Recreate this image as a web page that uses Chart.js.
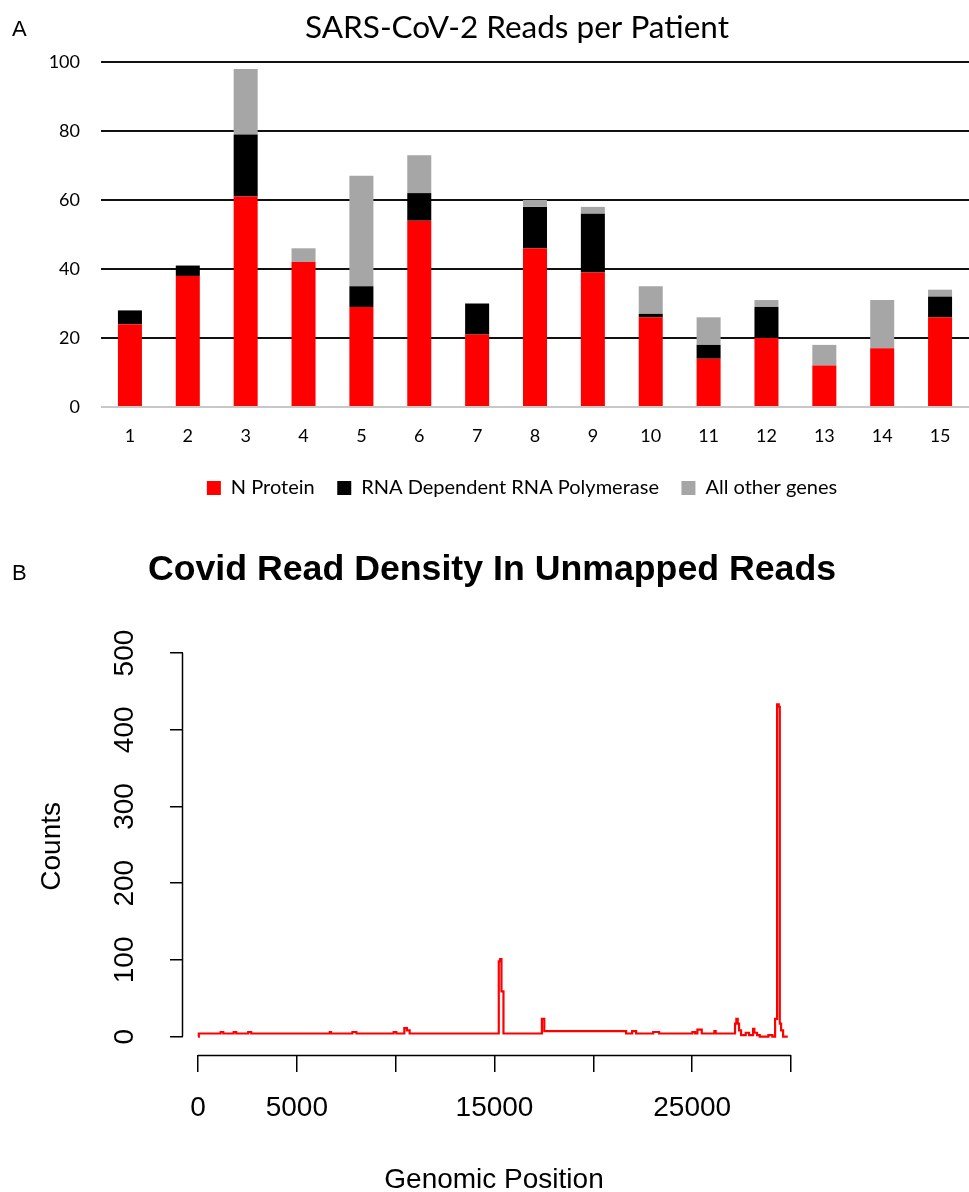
<!DOCTYPE html>
<html><head><meta charset="utf-8">
<script src="https://cdn.jsdelivr.net/npm/chart.js@4.4.0/dist/chart.umd.min.js"></script>
<style>
html,body{margin:0;padding:0;background:#fff;}
#wrap{position:relative;width:969px;height:1192px;overflow:hidden;background:#fff;}
.letter{position:absolute;font-family:"Liberation Sans",Arial,sans-serif;font-size:22px;color:#000;line-height:1;}
#cA{position:absolute;left:0;top:0;width:969px;height:540px;}
#cB{position:absolute;left:0;top:540px;width:969px;height:652px;}
</style></head><body>
<div id="wrap">
<canvas id="cA" width="969" height="540"></canvas>
<canvas id="cB" width="969" height="652"></canvas>
<div class="letter" style="left:12px;top:18px;">A</div>
<div class="letter" style="left:12px;top:562px;">B</div>
</div>
<script>
// ---- Panel A data ----
const patients = ['1','2','3','4','5','6','7','8','9','10','11','12','13','14','15'];
const nProtein   = [24, 38, 61, 42, 29, 54, 21, 46, 39, 26, 14, 20, 12, 17, 26];
const rdrp       = [ 4,  3, 18,  0,  6,  8,  9, 12, 17,  1,  4,  9,  0,  0,  6];
const otherGenes = [ 0,  0, 19,  4, 32, 11,  0,  2,  2,  8,  8,  2,  6, 14,  2];
const countTicksA = [0, 20, 40, 60, 80, 100];

// ---- Panel B data (step profile: count holds from each position to the next) ----
const genomePos = [0, 40, 1146, 1278, 1803, 1934, 2540, 2692, 6666, 6732, 7812, 8014, 9898, 10035,
  10437, 10570, 10707, 15216, 15285, 15352, 15453, 17397, 17518, 21659, 21962, 22164, 23028, 23331,
  25012, 25149, 25265, 25486, 26123, 26190, 27169, 27235, 27305, 27371, 27472, 27710, 27878, 28081,
  28146, 28283, 28419, 28856, 29058, 29195, 29296, 29380, 29432, 29499, 29600, 29837];
const readCounts = [0, 4, 6, 4, 6, 4, 6, 4, 6, 4, 6, 4, 6, 4,
  11, 8, 4, 98, 101, 59, 4, 23, 7, 4, 7, 4, 6, 4,
  6, 4, 9, 4, 7, 4, 17, 23, 17, 8, 2, 5, 2, 10,
  5, 2, 0, 2, 0, 23, 433, 430, 17, 8, 0, 0];
const xTickValues = [0, 5000, 10000, 15000, 20000, 25000, 30000];
const xTickLabels = ['0', '5000', '', '15000', '', '25000', ''];
const yTickValues = [0, 100, 200, 300, 400, 500];

function drawCharts(){
  // re-centre the title and legend of panel A the way the original figure does
  const shiftBoxes = {
    id: 'shiftBoxes',
    afterLayout(chart){
      if (chart.titleBlock) chart.titleBlock.left = 65;
      if (chart.legend) chart.legend.left = 75;
    }
  };

  new Chart(document.getElementById('cA'), {
    type: 'bar',
    data: {
      labels: patients,
      datasets: [
        {label: 'N Protein', data: nProtein, backgroundColor: '#FF0000'},
        {label: 'RNA Dependent RNA Polymerase', data: rdrp, backgroundColor: '#000000'},
        {label: 'All other genes', data: otherGenes, backgroundColor: '#A6A6A6'}
      ]
    },
    options: {
      responsive: false, animation: false, devicePixelRatio: 1,
      layout: {padding: {left: 0, right: 0, top: 0, bottom: 32}},
      datasets: {bar: {categoryPercentage: 1, barPercentage: 0.415, borderWidth: 0}},
      plugins: {
        title: {display: true, text: 'SARS-CoV-2 Reads per Patient', color: '#000',
          font: {family: 'Lato', size: 31.5, weight: 'normal'}, padding: {top: 8.5, bottom: 15.7}},
        legend: {position: 'bottom', labels: {boxWidth: 14, boxHeight: 14, padding: 22.5, color: '#000',
          font: {family: 'Lato', size: 20}}},
        tooltip: {enabled: false}
      },
      scales: {
        x: {stacked: true, grid: {display: false}, border: {display: false},
          ticks: {color: '#000', font: {family: 'Lato', size: 18}, padding: 10},
          afterFit: s => { s.height = 48.5; }},
        y: {stacked: true, min: 0, max: 100,
          afterBuildTicks: s => { s.ticks = countTicksA.map(v => ({value: v})); },
          grid: {color: c => (c.tick && c.tick.value === 0) ? '#C8C8C8' : '#111', lineWidth: 2, drawTicks: false},
          border: {display: false},
          ticks: {color: '#000', font: {family: 'Lato', size: 18}, padding: 21},
          afterFit: s => { s.width = 101; }}
      }
    },
    plugins: [shiftBoxes]
  });

  const rAxisLines = {
    id: 'rAxisLines',
    afterDraw(chart){
      const {ctx, chartArea} = chart;
      const x = chart.scales.x, y = chart.scales.y;
      ctx.save();
      ctx.strokeStyle = '#000'; ctx.lineWidth = 1.5;
      ctx.beginPath();
      const yb = chartArea.bottom + 0.5;
      ctx.moveTo(x.getPixelForValue(xTickValues[0]), yb);
      ctx.lineTo(x.getPixelForValue(xTickValues[xTickValues.length - 1]), yb);
      const xl = chartArea.left - 0.5;
      ctx.moveTo(xl, y.getPixelForValue(yTickValues[0]));
      ctx.lineTo(xl, y.getPixelForValue(yTickValues[yTickValues.length - 1]));
      ctx.stroke();
      ctx.restore();
    }
  };

  const RF = 'Liberation Sans';
  new Chart(document.getElementById('cB'), {
    type: 'line',
    data: {
      datasets: [{
        data: genomePos.map((p, i) => ({x: p, y: readCounts[i]})),
        borderColor: '#FF0000', borderWidth: 2.2, stepped: true, pointRadius: 0, fill: false
      }]
    },
    options: {
      responsive: false, animation: false, devicePixelRatio: 1,
      layout: {padding: {left: 15, right: 0, top: 0, bottom: 0}},
      plugins: {
        title: {display: true, text: 'Covid Read Density In Unmapped Reads', color: '#000',
          font: {family: RF, size: 35.7, weight: 'bold'}, padding: {top: 8.6, bottom: 46.3}},
        legend: {display: false}, tooltip: {enabled: false}
      },
      scales: {
        x: {type: 'linear', min: -759, max: 30708,
          afterBuildTicks: s => { s.ticks = xTickValues.map(v => ({value: v})); },
          ticks: {autoSkip: false, maxRotation: 0, minRotation: 0, color: '#000',
            callback: (v, i) => xTickLabels[i], font: {family: RF, size: 28}, padding: 19.7},
          grid: {drawOnChartArea: false, drawTicks: true, tickLength: 17, color: '#000', lineWidth: 1.5},
          border: {display: false},
          title: {display: true, text: 'Genomic Position', color: '#000',
            font: {family: RF, size: 28, lineHeight: 0.85}, padding: {top: 0, bottom: 0}},
          afterFit: s => { s.height = 137; }},
        y: {type: 'linear', min: -24, max: 520,
          afterBuildTicks: s => { s.ticks = yTickValues.map(v => ({value: v})); },
          ticks: {minRotation: 90, maxRotation: 90, crossAlign: 'center', color: '#000',
            font: {family: RF, size: 28}, padding: 21.6},
          grid: {drawOnChartArea: false, drawTicks: true, tickLength: 13, color: '#000', lineWidth: 1.5},
          border: {display: false},
          title: {display: true, text: 'Counts', color: '#000',
            font: {family: RF, size: 28, lineHeight: 1}, padding: {top: 23, bottom: 0}},
          afterFit: s => { s.width = 168; }},
        y2: {type: 'linear', position: 'right', display: true,
          ticks: {display: false}, grid: {display: false}, border: {display: false},
          afterFit: s => { s.width = 164; }}
      }
    },
    plugins: [rAxisLines]
  });
}

if (document.fonts && document.fonts.load) {
  Promise.all([
    document.fonts.load('31px Lato'), document.fonts.load('18px Lato'),
    document.fonts.load('28px "Liberation Sans"'), document.fonts.load('bold 35px "Liberation Sans"')
  ]).then(drawCharts, drawCharts);
} else { drawCharts(); }
</script>
</body></html>
